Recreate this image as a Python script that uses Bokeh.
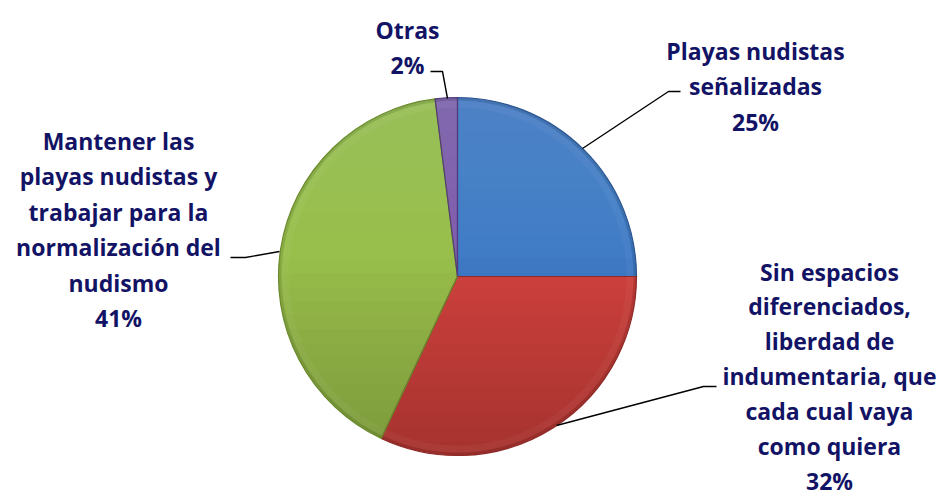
import math
from bokeh.plotting import figure
from bokeh.models import Range1d
from bokeh.core.properties import value
from bokeh.embed import file_html
from bokeh.resources import INLINE

# ---- data ----
categories = [
    "Playas nudistas\nseñalizadas",
    "Sin espacios\ndiferenciados,\nliberdad de\nindumentaria, que\ncada cual vaya\ncomo quiera",
    "Mantener las\nplayas nudistas y\ntrabajar para la\nnormalización del\nnudismo",
    "Otras",
]
percent = [25, 32, 41, 2]
colors = ["#3F7AC6", "#D0413D", "#98BF4A", "#7E5BAE"]
edge_colors = ["#2A5590", "#8E2A27", "#6A8A2C", "#553A7C"]

# ---- layout (pixels, y measured downward from top of the picture) ----
W, H = 949, 497
def X(px):
    return px
def Y(py):
    return H - py

cx, cy, R = X(457), Y(276), 179

label_pos = [
    (755, 50),
    (829, 271),
    (118, 140),
    (407, 29),
]
label_step = [35.5, 34.9, 35.5, 35.5]
leaders = [
    [(680, 91), (668, 91), (582, 148)],
    [(716, 386), (703, 386), (556, 425)],
    [(230, 257), (245, 257), (279, 251)],
    [(430, 71), (442, 71), (447, 98)],
]
TEXT_COLOR = "#131366"
FONT = "Open Sans"

p = figure(width=W, height=H, output_backend="svg", toolbar_location=None,
           x_range=Range1d(0, W), y_range=Range1d(0, H), min_border=0,
           x_axis_location=None, y_axis_location=None)
p.grid.visible = False
p.outline_line_color = None
p.background_fill_color = "white"
p.border_fill_color = "white"

# wedges: start at top, clockwise
total = float(sum(percent))
start = math.pi / 2
starts, ends = [], []
for v in percent:
    ang = v / total * 2 * math.pi
    ends.append(start)
    starts.append(start - ang)
    start -= ang

n = len(percent)
p.wedge(x=[cx] * n, y=[cy] * n, radius=R, start_angle=starts, end_angle=ends,
        fill_color=colors, line_color=None)

# vertical shading of the disc (lighter top, darker bottom)
def cap(y_cut, from_top=True, steps=60):
    h = max(-1.0, min(1.0, (y_cut - cy) / R))
    a0 = math.asin(h)
    if from_top:
        angs = [a0 + (math.pi - 2 * a0) * k / steps for k in range(steps + 1)]
    else:
        angs = [math.pi - a0 + (math.pi + 2 * a0) * k / steps for k in range(steps + 1)]
    return [cx + R * math.cos(t) for t in angs], [cy + R * math.sin(t) for t in angs]

levels = 14
for k in range(1, levels + 1):
    yc = cy + R - (R * 0.9) * k / levels
    xs, ys = cap(yc, True)
    p.patch(xs, ys, fill_color="white", fill_alpha=0.008, line_color=None)
for k in range(1, levels + 1):
    yc = cy - R + (R * 1.1) * k / levels
    xs, ys = cap(yc, False)
    p.patch(xs, ys, fill_color="black", fill_alpha=0.011, line_color=None)

# bevel rim
p.annular_wedge(x=[cx] * n, y=[cy] * n, inner_radius=R - 10, outer_radius=R - 3,
                start_angle=starts, end_angle=ends, fill_color="white", fill_alpha=0.04,
                line_color=None)
p.annular_wedge(x=[cx] * n, y=[cy] * n, inner_radius=R - 3, outer_radius=R,
                start_angle=starts, end_angle=ends, fill_color="black", fill_alpha=0.10,
                line_color=None)
p.wedge(x=[cx] * n, y=[cy] * n, radius=R, start_angle=starts, end_angle=ends,
        fill_color=None, line_color=edge_colors, line_width=1.2)

# leader lines
for pts in leaders:
    p.line([X(a) for a, b in pts], [Y(b) for a, b in pts], line_color="black", line_width=1.4)

# labels
for cat, v, (lx, ly), step in zip(categories, percent, label_pos, label_step):
    lines = cat.split("\n") + [f"{v}%"]
    xs = [X(lx)] * len(lines)
    ys = [Y(ly + i * step) for i in range(len(lines))]
    p.text(x=xs, y=ys, text=lines, text_align="center", text_baseline="middle",
           text_font=value(FONT), text_font_style="bold", text_font_size="23px",
           text_color=TEXT_COLOR)

open("out.html", "w").write(file_html(p, INLINE))
